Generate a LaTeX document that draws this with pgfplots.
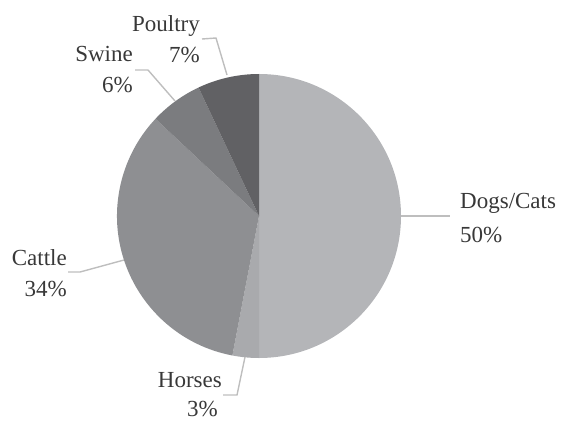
\documentclass[border=0pt]{standalone}
\usepackage{pgfplots}
\pgfplotsset{compat=1.18}
\usepackage{fontspec}
\setmainfont{Liberation Serif}
\definecolor{cDogs}{HTML}{B4B5B8}
\definecolor{cHorses}{HTML}{A9AAAD}
\definecolor{cCattle}{HTML}{8E8F92}
\definecolor{cSwine}{HTML}{7B7C7F}
\definecolor{cPoultry}{HTML}{616164}
\definecolor{cLine}{HTML}{BEBEBE}
% shares (percent): Dogs/Cats 50, Horses 3, Cattle 34, Swine 6, Poultry 7
\begin{document}
\begin{tikzpicture}[lab/.style={inner sep=0pt, text=black!78, font=\fontsize{23}{27}\selectfont}]
\begin{axis}[x=1pt, y=1pt, xmin=0, xmax=561, ymin=0, ymax=421,
  hide axis, clip=false, scale only axis]
% slices, clockwise from 12 o'clock; angle = 3.6 * percent
\fill[cDogs]    (axis cs:259,205) -- ++(90:142pt)     arc[start angle=90,     end angle=-90,    radius=142pt] -- cycle;
\fill[cHorses]  (axis cs:259,205) -- ++(-90:142pt)    arc[start angle=-90,    end angle=-100.8, radius=142pt] -- cycle;
\fill[cCattle]  (axis cs:259,205) -- ++(-100.8:142pt) arc[start angle=-100.8, end angle=-223.2, radius=142pt] -- cycle;
\fill[cSwine]   (axis cs:259,205) -- ++(-223.2:142pt) arc[start angle=-223.2, end angle=-244.8, radius=142pt] -- cycle;
\fill[cPoultry] (axis cs:259,205) -- ++(-244.8:142pt) arc[start angle=-244.8, end angle=-270,   radius=142pt] -- cycle;
% leader lines
\draw[cLine, line width=1.4pt] (axis cs:202,382) -- (axis cs:216,383) -- (axis cs:227,346);
\draw[cLine, line width=1.4pt] (axis cs:135,351) -- (axis cs:148,351) -- (axis cs:175,320);
\draw[cLine, line width=1.4pt] (axis cs:68,149) -- (axis cs:80,149) -- (axis cs:124,161);
\draw[cLine, line width=1.4pt] (axis cs:223,26) -- (axis cs:237,26) -- (axis cs:245,64);
\draw[cLine, line width=1.4pt] (axis cs:401,205) -- (axis cs:450,205);
% labels
\node[lab, anchor=base east] at (axis cs:200,389) {Poultry};
\node[lab, anchor=base east] at (axis cs:200,358) {7\%};
\node[lab, anchor=base east] at (axis cs:133,359) {Swine};
\node[lab, anchor=base east] at (axis cs:133,328) {6\%};
\node[lab, anchor=base east] at (axis cs:67,156) {Cattle};
\node[lab, anchor=base east] at (axis cs:67,125) {34\%};
\node[lab, anchor=base west] at (axis cs:460,213) {Dogs/Cats};
\node[lab, anchor=base west] at (axis cs:460,179) {50\%};
\node[lab, anchor=base east] at (axis cs:222,34) {Horses};
\node[lab, anchor=base east] at (axis cs:218,5) {3\%};
\end{axis}
\pgfresetboundingbox
\path[use as bounding box] (0,0) rectangle (561pt,421pt);
\end{tikzpicture}
\end{document}
